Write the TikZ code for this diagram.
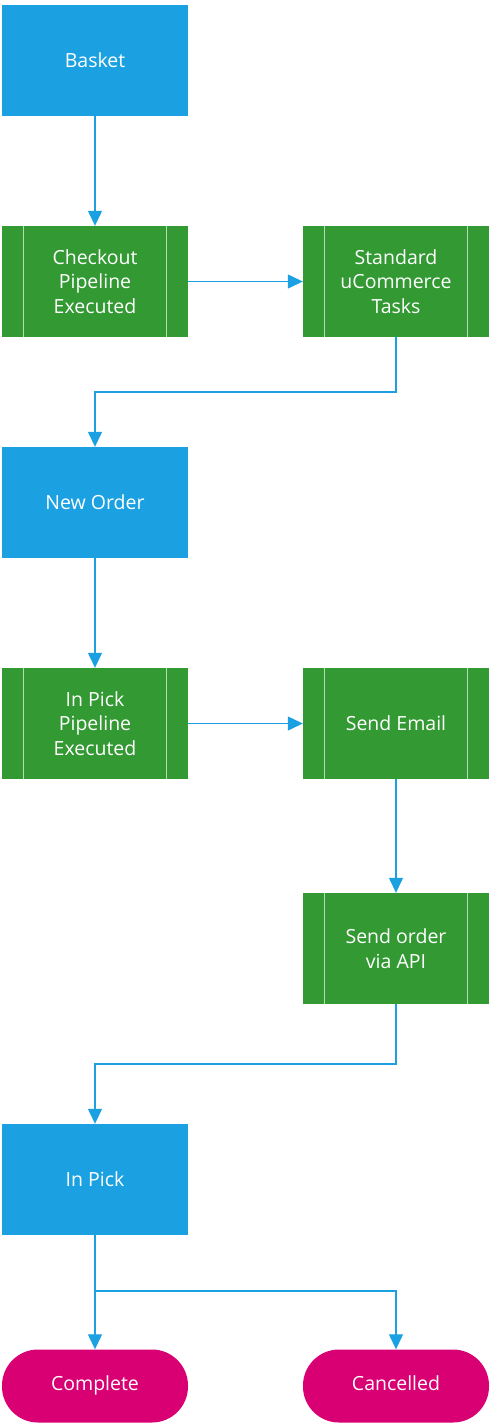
\documentclass[tikz,border=0pt]{standalone}
\usepackage{fontspec}
\setmainfont{Open Sans}
\usepackage{xcolor}
\usetikzlibrary{arrows.meta, calc}

\definecolor{stateblue}{HTML}{1BA1E2}
\definecolor{taskgreen}{HTML}{339933}
\definecolor{endpink}{HTML}{D80073}
\definecolor{taskline}{HTML}{B5DDB5}

\tikzset{
	state/.style={fill=stateblue, minimum width=186pt, minimum height=111pt, inner sep=0pt, text=white, align=center},
	task/.style={fill=taskgreen, minimum width=186pt, minimum height=111pt, inner sep=0pt, text=white, align=center,
		path picture={
			\draw[taskline, line width=1.2pt] ([xshift=21.5pt]path picture bounding box.north west) -- ([xshift=21.5pt]path picture bounding box.south west);
			\draw[taskline, line width=1.2pt] ([xshift=-21.5pt]path picture bounding box.north east) -- ([xshift=-21.5pt]path picture bounding box.south east);
		}},
	final/.style={fill=endpink, minimum width=186pt, minimum height=73pt, inner sep=0pt, rounded corners=36pt, text=white, text height=0.95em, text depth=0.05em},
	flow/.style={draw=stateblue, line width=1.3pt, -{Triangle[length=15pt, width=14pt]}}
}

\begin{document}
\begin{tikzpicture}[x=1pt, y=-1pt, font=\fontsize{19.5}{24.5}\selectfont]
				  \useasboundingbox (0,0) rectangle (492,1428);
				  \node[state] (basket) at (95,60.5) {Basket};
				  \node[task] (checkout) at (95,281.5) {Checkout\\Pipeline\\Executed};
				  \node[task] (standard) at (396,281.5) {Standard\\uCommerce\\Tasks};
				  \node[state] (neworder) at (95,502.5) {New Order};
				  \node[task] (inpickpipe) at (95,723.5) {In Pick\\Pipeline\\Executed};
				  \node[task] (email) at (396,723.5) {Send Email};
				  \node[task] (api) at (396,948.5) {Send order\\via API};
				  \node[state] (inpick) at (95,1179.5) {In Pick};
				  \node[final] (complete) at (95,1386) {Complete};
				  \node[final] (cancelled) at (396,1386) {Cancelled};
				  \coordinate (split) at (95,1291);
				  \draw[flow] (basket) -- (checkout);
				  \draw[flow] (checkout) -- (standard);
				  \draw[flow] (standard.south) |- ($(standard.south)!0.5!(neworder.north)$) -| (neworder.north);
				  \draw[flow] (neworder) -- (inpickpipe);
				  \draw[flow] (inpickpipe) -- (email);
				  \draw[flow] (email) -- (api);
				  \draw[flow] (api.south) |- ($(api.south)!0.5!(inpick.north)$) -| (inpick.north);
				  \draw[flow] (inpick) -- (complete);
				  \draw[flow] (split) -| (cancelled.north);
				\end{tikzpicture}
\end{document}
